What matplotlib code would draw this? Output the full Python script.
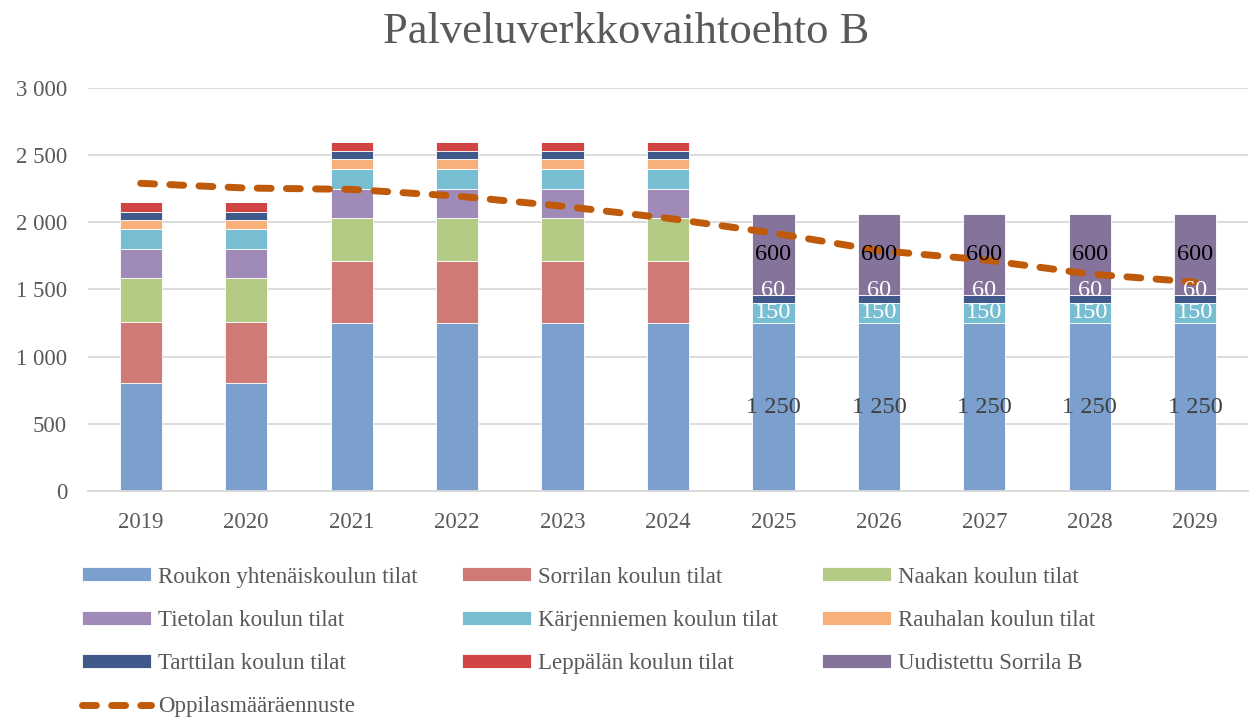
import matplotlib
matplotlib.use("Agg")
import matplotlib.pyplot as plt
from matplotlib.ticker import FuncFormatter, MultipleLocator
import numpy as np

years = ["2019", "2020", "2021", "2022", "2023", "2024", "2025", "2026", "2027", "2028", "2029"]
series_names = [
    "Roukon yhtenäiskoulun tilat",
    "Sorrilan koulun tilat",
    "Naakan koulun tilat",
    "Tietolan koulun tilat",
    "Kärjenniemen koulun tilat",
    "Rauhalan koulun tilat",
    "Tarttilan koulun tilat",
    "Leppälän koulun tilat",
    "Uudistettu Sorrila B",
]
roukon = [800, 800, 1250, 1250, 1250, 1250, 1250, 1250, 1250, 1250, 1250]
sorrila = [460, 460, 460, 460, 460, 460, 0, 0, 0, 0, 0]
naakka = [325, 325, 325, 325, 325, 325, 0, 0, 0, 0, 0]
tietola = [215, 215, 215, 215, 215, 215, 0, 0, 0, 0, 0]
karjenniemi = [150, 150, 150, 150, 150, 150, 150, 150, 150, 150, 150]
rauhala = [70, 70, 70, 70, 70, 70, 0, 0, 0, 0, 0]
tarttila = [60, 60, 60, 60, 60, 60, 60, 60, 60, 60, 60]
leppala = [70, 70, 70, 70, 70, 70, 0, 0, 0, 0, 0]
sorrila_b = [0, 0, 0, 0, 0, 0, 600, 600, 600, 600, 600]
line_name = "Oppilasmääräennuste"
forecast = [2290, 2255, 2245, 2195, 2120, 2030, 1920, 1790, 1720, 1615, 1555]

colors = ["#7BA0CD", "#D07A78", "#B3CB84", "#A08AB8", "#77BED3",
          "#F8B07A", "#3F5A8A", "#D04444", "#85739C"]
line_color = "#BF5A0A"
text_color = "#595959"

plt.rcParams['font.family'] = ['Liberation Serif', 'DejaVu Serif']

fig = plt.figure(figsize=(12.53, 7.18), dpi=100)
ax = fig.add_axes([0.0702, 0.3162, 0.9258, 0.5613])

x = np.arange(len(years))
all_series = [roukon, sorrila, naakka, tietola, karjenniemi, rauhala, tarttila, leppala, sorrila_b]
bottom = np.zeros(len(years))
handles = []
for name, vals, c in zip(series_names, all_series, colors):
    v = np.array(vals, dtype=float)
    b = ax.bar(x, v, 0.4, bottom=bottom, color=c, edgecolor="white", linewidth=0.6,
               label=name, zorder=2)
    handles.append(b)
    for i in range(6, len(years)):
        if v[i] > 0:
            cy = bottom[i] + v[i] / 2
            if name == series_names[0]:
                col = "#404040"
            elif name == series_names[-1]:
                col = "black"
            else:
                col = "white"
            dy = 6 if name == series_names[6] else 0
            ax.annotate(f"{int(v[i]):,}".replace(",", " "), (x[i], cy), xytext=(0, dy),
                        textcoords="offset points", ha="center", va="center",
                        fontsize=17.5, color=col, zorder=5)
    bottom = bottom + v

ln, = ax.plot(x, forecast, color=line_color, lw=5, linestyle=(0, (2, 2.2)),
              dash_capstyle="round", label=line_name, zorder=4)

ax.set_xlim(-0.5, len(years) - 0.5)
ax.set_ylim(0, 3000)
ax.yaxis.set_major_locator(MultipleLocator(500))
ax.yaxis.set_major_formatter(FuncFormatter(lambda v, p: f"{int(v):,}".replace(",", " ")))
ax.set_xticks(x)
ax.set_xticklabels(years)
ax.tick_params(axis="both", length=0, labelsize=16.5, colors=text_color)
ax.tick_params(axis="x", pad=15)
ax.tick_params(axis="y", pad=15)
ax.grid(axis="y", color="#D9D9D9", lw=1.3, zorder=0)
ax.set_axisbelow(True)
for s in ["top", "right", "left"]:
    ax.spines[s].set_visible(False)
ax.spines["bottom"].set_color("#D9D9D9")
ax.spines["bottom"].set_linewidth(1.3)

fig.text(0.5, 0.956, "Palveluverkkovaihtoehto B", ha="center", va="center",
         fontsize=32, color=text_color)

h = handles
order = [h[0], h[3], h[6], ln, h[1], h[4], h[7], h[2], h[5], h[8]]
leg = fig.legend(order, [o.get_label() for o in order], ncol=3, loc="upper left",
                 bbox_to_anchor=(0.0656, 0.211), frameon=False, fontsize=16.5,
                 handlelength=3.0, handleheight=0.55, handletextpad=0.3,
                 columnspacing=1.95, labelspacing=0.97, labelcolor=text_color,
                 borderaxespad=0, borderpad=0)

fig.savefig("out.png", dpi=100)
